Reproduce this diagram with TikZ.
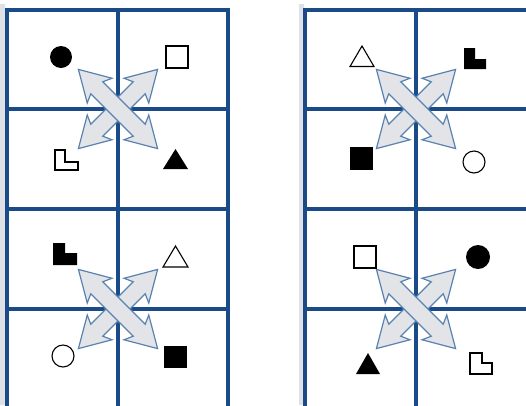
\documentclass[tikz,border=0pt]{standalone}
\definecolor{gridblue}{RGB}{26,74,136}
\definecolor{gridhalo}{RGB}{175,202,230}
\definecolor{arrowfill}{RGB}{226,228,232}
\definecolor{arrowedge}{RGB}{90,130,176}
\definecolor{pageedge}{RGB}{222,226,231}
\begin{document}
\begin{tikzpicture}[x=1pt,y=-1pt,
    gridline/.style={gridblue,line width=3.1,line cap=rect,preaction={draw=gridhalo,line width=4.6,line cap=rect}},
    crossarrow/.style={fill=arrowfill,draw=arrowedge,line width=1.2,line join=miter},
    fillshape/.style={fill=black},
    openshape/.style={draw=black,fill=white,line width=1.1}]
    \useasboundingbox (0,0) rectangle (526,405);
    \clip (0,0) rectangle (526,405);
    \fill[white] (0,0) rectangle (526,405);
    \fill[pageedge] (0,4) rectangle (5,405) (299,4) rectangle (304,405);
    \foreach \y in {10,109,209,309}
        \draw[gridline] (7,\y) -- (228,\y) (305,\y) -- (530,\y);
    \foreach \x in {7,118,228,305,416}
        \draw[gridline] (\x,10) -- (\x,410);
    \foreach \cx/\cy in {118/109,118/309,416/109,416/309}
        \foreach \ang in {45,-45}
            \draw[crossarrow,shift={(\cx,\cy)},rotate=\ang] (-56,0) -- (-26,17.5) -- (-30,8.5)
                -- (30,8.5) -- (26,17.5) -- (56,0) -- (26,-17.5) -- (30,-8.5)
                -- (-30,-8.5) -- (-26,-17.5) -- cycle;
    \fill[fillshape] (61,57) circle (11);
    \draw[openshape] (166,46) rectangle (188,68);
    \draw[openshape] (55,150) -- ++(10,0) -- ++(0,12) -- ++(13,0) -- ++(0,8) -- ++(-23,0) -- cycle;
    \fill[fillshape] (163,169) -- (188,169) -- (175.5,149) -- cycle;
    \fill[fillshape] (53,243) -- ++(12,0) -- ++(0,10) -- ++(12,0) -- ++(0,12) -- ++(-24,0) -- cycle;
    \draw[openshape] (163,267) -- (188,267) -- (175.5,246) -- cycle;
    \draw[openshape] (63,356) circle (11);
    \fill[fillshape] (164,346) rectangle (187,368);
    \draw[openshape] (350,66.5) -- (374,66.5) -- (362,46) -- cycle;
    \fill[fillshape] (464,48) -- ++(11,0) -- ++(0,11) -- ++(11,0) -- ++(0,10) -- ++(-22,0) -- cycle;
    \fill[fillshape] (350,147) rectangle (373,170);
    \draw[openshape] (474,162) circle (11);
    \draw[openshape] (354,246) rectangle (376,268);
    \fill[fillshape] (478,257) circle (12);
    \fill[fillshape] (356,374) -- (380,374) -- (368,353) -- cycle;
    \draw[openshape] (470,353) -- ++(12,0) -- ++(0,10) -- ++(10,0) -- ++(0,11) -- ++(-22,0) -- cycle;
\end{tikzpicture}
\end{document}
